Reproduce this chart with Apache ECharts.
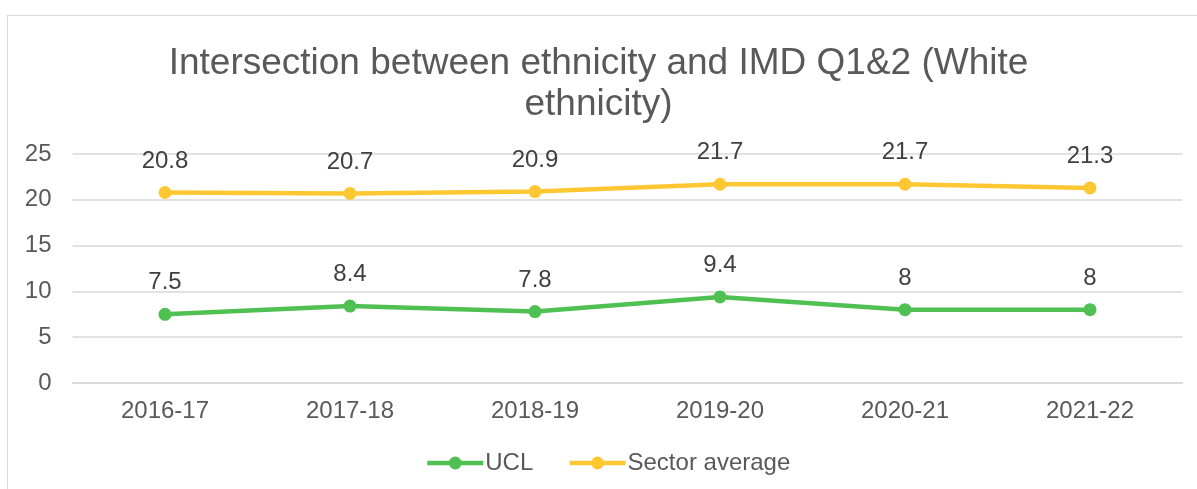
<!DOCTYPE html>
<html>
<head>
<meta charset="utf-8">
<script src="https://cdn.jsdelivr.net/npm/echarts@6/dist/echarts.min.js"></script>
<style>
  html, body { margin: 0; padding: 0; background: #fff; }
  #frame { position: absolute; left: 7px; top: 15px; width: 1300px; height: 600px; border: 1px solid #d9d9d9; box-sizing: border-box; }
  #chart { position: absolute; left: 0; top: 0; width: 1197px; height: 489px; }
</style>
</head>
<body>
<div id="frame"></div>
<div id="chart"></div>
<script>
  // data
  const years = ["2016-17", "2017-18", "2018-19", "2019-20", "2020-21", "2021-22"];
  const uclValues = [7.5, 8.4, 7.8, 9.4, 8, 8];
  const sectorValues = [20.8, 20.7, 20.9, 21.7, 21.7, 21.3];
  const yTicks = { min: 0, max: 25, interval: 5 };

  const green = "#4fc152";
  const yellow = "#ffc833";

  const chart = echarts.init(document.getElementById("chart"));

  const makeSeries = (name, data, color) => ({
    name: name,
    type: "line",
    data: data,
    symbol: "circle",
    symbolSize: 13,
    lineStyle: { color: color, width: 4.5 },
    itemStyle: { color: color },
    label: {
      show: true,
      position: "top",
      distance: 13,
      fontFamily: "Liberation Sans",
      fontSize: 24,
      color: "#404040"
    }
  });

  chart.setOption({
    animation: false,
    title: {
      text: "Intersection between ethnicity and IMD Q1&2 (White\nethnicity)",
      left: "center",
      top: 38,
      textStyle: {
        fontFamily: "Liberation Sans",
        fontWeight: "normal",
        fontSize: 37,
        lineHeight: 41,
        color: "#595959"
      }
    },
    legend: {
      bottom: 9,
      left: 420,
      itemWidth: 56,
      itemHeight: 16,
      itemGap: 34,
      lineStyle: { width: 4.5 },
      textStyle: { fontFamily: "Liberation Sans", fontSize: 24, color: "#595959", padding: [0, 0, 0, -3] },
      data: ["UCL", "Sector average"]
    },
    grid: { left: 72.5, right: 14.5, top: 154, bottom: 106 },
    xAxis: {
      type: "category",
      data: years,
      boundaryGap: true,
      axisLine: { show: true, lineStyle: { color: "#d9d9d9", width: 1.5 } },
      axisTick: { show: false },
      axisLabel: { fontFamily: "Liberation Sans", fontSize: 24, color: "#595959", margin: 16 }
    },
    yAxis: {
      type: "value",
      min: yTicks.min,
      max: yTicks.max,
      interval: yTicks.interval,
      axisLine: { show: false },
      axisTick: { show: false },
      axisLabel: { fontFamily: "Liberation Sans", fontSize: 24, color: "#595959", margin: 21 },
      splitLine: { lineStyle: { color: "#d9d9d9", width: 1.5 } }
    },
    series: [
      makeSeries("UCL", uclValues, green),
      makeSeries("Sector average", sectorValues, yellow)
    ]
  });
</script>
</body>
</html>
